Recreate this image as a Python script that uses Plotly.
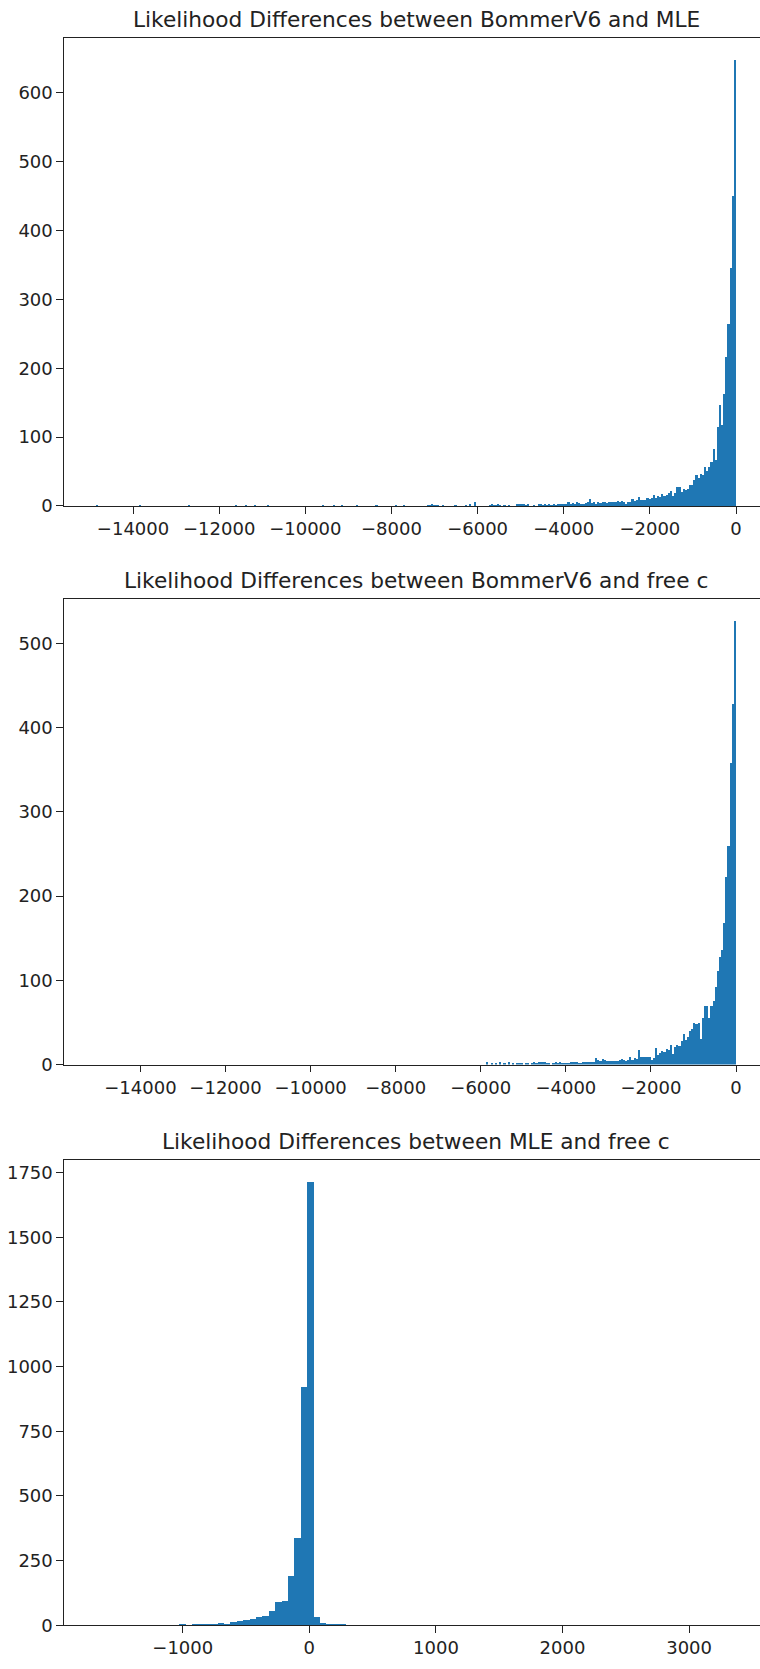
import numpy as np
import plotly.graph_objects as go

# ---------------- data ----------------
TITLES = [
    "Likelihood Differences between BommerV6 and MLE",
    "Likelihood Differences between BommerV6 and free c",
    "Likelihood Differences between MLE and free c",
]

# histogram 1: 300 bins from -14860 to 0
H1_START = -14860.0
H1_END = 0.0
COUNTS1 = [
    1, 0, 0, 0, 0, 0, 0, 0, 0, 0, 0, 0, 0, 0, 0, 0, 0, 0, 0, 0,
    1, 0, 0, 0, 0, 0, 0, 0, 0, 0, 0, 0, 0, 0, 0, 0, 0, 0, 0, 0,
    0, 0, 0, 1, 0, 0, 0, 0, 0, 0, 0, 0, 0, 0, 0, 0, 0, 0, 0, 0,
    0, 0, 0, 0, 0, 1, 0, 0, 0, 0, 1, 0, 0, 0, 1, 0, 0, 0, 0, 0,
    1, 0, 0, 0, 0, 0, 0, 0, 0, 0, 0, 0, 0, 0, 0, 0, 0, 0, 0, 0,
    0, 0, 0, 0, 0, 0, 1, 0, 0, 0, 0, 1, 0, 0, 0, 1, 0, 0, 0, 0,
    0, 0, 1, 0, 0, 0, 0, 0, 0, 0, 0, 1, 0, 0, 0, 0, 0, 0, 0, 0,
    1, 0, 0, 0, 1, 0, 0, 0, 0, 0, 0, 0, 0, 0, 0, 1, 1, 2, 1, 1,
    1, 0, 1, 0, 0, 0, 0, 0, 1, 0, 0, 0, 0, 1, 0, 2, 0, 5, 0, 0,
    0, 0, 0, 0, 1, 2, 1, 1, 2, 1, 0, 1, 0, 1, 0, 0, 0, 2, 3, 2,
    3, 1, 3, 0, 0, 1, 0, 2, 2, 1, 2, 1, 2, 1, 2, 1, 2, 2, 3, 3,
    2, 6, 3, 4, 3, 5, 4, 3, 3, 4, 6, 10, 4, 5, 3, 6, 4, 5, 5, 4,
    6, 5, 6, 5, 7, 6, 7, 6, 3, 5, 6, 10, 7, 8, 13, 9, 8, 9, 11, 10,
    11, 16, 12, 14, 13, 17, 15, 16, 18, 21, 14, 18, 27, 27, 20, 25, 23, 24, 31, 31,
    38, 45, 40, 46, 45, 56, 50, 57, 64, 82, 66, 114, 147, 118, 162, 216, 264, 346, 450, 647,
]

# histogram 2: 300 bins from -15050 to 0
H2_START = -15050.0
H2_END = 0.0
COUNTS2 = [
    0, 0, 0, 0, 0, 0, 0, 0, 0, 0, 0, 0, 0, 0, 0, 0, 0, 0, 0, 0,
    0, 0, 0, 0, 0, 0, 0, 0, 0, 0, 0, 0, 0, 0, 0, 0, 0, 0, 0, 0,
    0, 0, 0, 0, 0, 0, 0, 0, 0, 0, 0, 0, 0, 0, 0, 0, 0, 0, 0, 0,
    0, 0, 0, 0, 0, 0, 0, 0, 0, 0, 0, 0, 0, 0, 0, 0, 0, 0, 0, 0,
    0, 0, 0, 0, 0, 0, 0, 0, 0, 0, 0, 0, 0, 0, 0, 0, 0, 0, 0, 0,
    0, 0, 0, 0, 0, 0, 0, 0, 0, 0, 0, 0, 0, 0, 0, 0, 0, 0, 0, 0,
    0, 0, 0, 0, 0, 0, 0, 0, 0, 0, 0, 0, 0, 0, 0, 0, 0, 0, 0, 0,
    0, 0, 0, 0, 0, 0, 0, 0, 0, 0, 0, 0, 0, 0, 0, 0, 0, 0, 0, 0,
    0, 0, 0, 0, 0, 0, 0, 0, 0, 0, 0, 0, 0, 0, 0, 0, 0, 0, 0, 0,
    0, 0, 0, 3, 0, 2, 0, 1, 0, 3, 0, 1, 0, 3, 0, 1, 0, 2, 1, 2,
    0, 2, 1, 0, 1, 3, 1, 3, 3, 3, 3, 1, 2, 0, 1, 3, 2, 3, 2, 1,
    2, 1, 3, 3, 3, 3, 2, 1, 3, 3, 3, 3, 3, 3, 8, 5, 4, 7, 5, 4,
    4, 4, 4, 4, 4, 5, 7, 6, 4, 5, 9, 6, 8, 7, 17, 9, 9, 9, 9, 9,
    6, 8, 20, 11, 14, 16, 15, 19, 17, 23, 13, 21, 23, 22, 28, 37, 29, 33, 40, 42,
    50, 48, 50, 31, 56, 70, 70, 56, 70, 76, 92, 111, 128, 136, 168, 223, 260, 358, 428, 527,
]

# histogram 3: 100 bins from -1685 to 3370
H3_START = -1685.0
H3_END = 3370.0
COUNTS3 = [
    1, 0, 0, 0, 0, 0, 0, 0, 0, 0, 0, 0, 0, 4, 0, 4, 4, 4, 4, 9,
    4, 14, 18, 21, 27, 35, 37, 55, 90, 96, 192, 340, 922, 1717, 35, 9, 4, 4, 4, 0,
    0, 0, 0, 0, 0, 0, 0, 0, 0, 0, 0, 0, 0, 0, 0, 0, 0, 0, 0, 0,
    0, 0, 0, 0, 0, 0, 0, 0, 0, 0, 0, 0, 0, 0, 0, 0, 0, 0, 0, 0,
    0, 0, 0, 0, 0, 0, 0, 0, 0, 0, 0, 0, 0, 0, 0, 0, 0, 0, 0, 1,
]

XTICKS_A = [-14000, -12000, -10000, -8000, -6000, -4000, -2000, 0]
XTICKS_B = [-1000, 0, 1000, 2000, 3000]
YTICKS_1 = [0, 100, 200, 300, 400, 500, 600]
YTICKS_2 = [0, 100, 200, 300, 400, 500]
YTICKS_3 = [0, 250, 500, 750, 1000, 1250, 1500, 1750]

# ---------------- layout constants ----------------
W, H = 760, 1669
LEFT = 64
PANELS = [  # (top px, bottom px)
    (38.3, 509.0),
    (602.5, 1071.0),
    (1166.5, 1635.0),
]
XRANGES = [[-15603, 557], [-15797, 564], [-1938, 3560]]
YRANGES = [[0, 679.4], [0, 553], [0, 1801]]
TITLE_CX = 416
BLUE = "#1f77b4"
FONT = "DejaVu Sans"
TICK_SIZE = 18
TITLE_SIZE = 21.7


def lab(v):
    s = str(abs(int(v)))
    return ("\u2212" + s) if v < 0 else s


fig = go.Figure()

hists = [(H1_START, H1_END, COUNTS1), (H2_START, H2_END, COUNTS2), (H3_START, H3_END, COUNTS3)]
for k, (a, b, cnt) in enumerate(hists):
    n = len(cnt)
    edges = np.linspace(a, b, n + 1)
    centers = (edges[:-1] + edges[1:]) / 2
    wdt = (b - a) / n
    sfx = "" if k == 0 else str(k + 1)
    fig.add_trace(go.Bar(
        x=centers, y=cnt, width=wdt,
        marker=dict(color=BLUE, line=dict(width=0)),
        xaxis="x" + sfx, yaxis="y" + sfx,
        hoverinfo="x+y",
    ))

xticks = [XTICKS_A, XTICKS_A, XTICKS_B]
yticks = [YTICKS_1, YTICKS_2, YTICKS_3]
layout = dict(
    width=W, height=H,
    margin=dict(l=0, r=0, t=0, b=0),
    paper_bgcolor="white", plot_bgcolor="white",
    showlegend=False, bargap=0,
    font=dict(family=FONT, size=TICK_SIZE, color="black"),
    annotations=[],
)
for k in range(3):
    top, bot = PANELS[k]
    sfx = "" if k == 0 else str(k + 1)
    layout["xaxis" + sfx] = dict(
        domain=[LEFT / W, 1.0], anchor="y" + sfx, range=XRANGES[k],
        tickmode="array", tickvals=xticks[k], ticktext=[lab(v) for v in xticks[k]],
        showgrid=False, zeroline=False,
        showline=True, linecolor="#222", linewidth=1.3, mirror=True,
        ticks="outside", ticklen=6.5, tickwidth=1.3, tickcolor="#222",
        tickfont=dict(family=FONT, size=TICK_SIZE, color="#222"),
        fixedrange=True,
    )
    layout["yaxis" + sfx] = dict(
        domain=[1 - bot / H, 1 - top / H], anchor="x" + sfx, range=YRANGES[k],
        tickmode="array", tickvals=yticks[k], ticktext=[lab(v) for v in yticks[k]],
        showgrid=False, zeroline=False,
        showline=True, linecolor="#222", linewidth=1.3, mirror=False,
        ticks="outside", ticklen=6.5, tickwidth=1.3, tickcolor="#222",
        tickfont=dict(family=FONT, size=TICK_SIZE, color="#222"),
        fixedrange=True,
    )
    layout["annotations"].append(dict(
        text=TITLES[k], xref="paper", yref="paper",
        x=TITLE_CX / W, y=1 - (top - 18.5) / H,
        xanchor="center", yanchor="middle", showarrow=False,
        font=dict(family=FONT, size=TITLE_SIZE, color="#222"),
    ))

fig.update_layout(**layout)
fig.write_html("out.html")
